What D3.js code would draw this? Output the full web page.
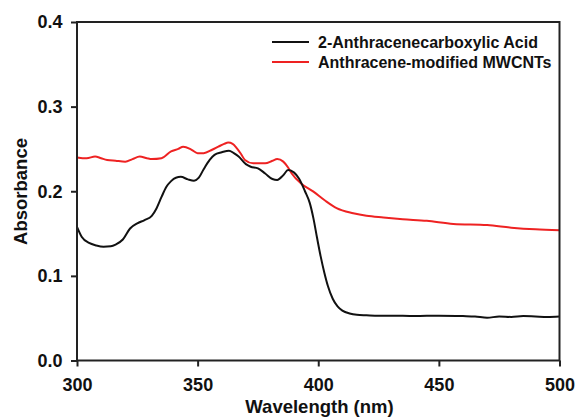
<!DOCTYPE html>
<html><head><meta charset="utf-8">
<script src="https://cdn.jsdelivr.net/npm/d3@7"></script>
<style>body{margin:0;background:#fff}svg{display:block}text{font-family:"Liberation Sans",Arial,sans-serif;font-weight:bold;fill:#111}</style>
</head><body><svg id="c" width="578" height="419"></svg>
<script>
const acidWl =  [300,302,305,308,311,314,316,319,322,325,328,331,333,335,337,339,341,343,346,348.5,350.5,352.5,355,357,360,363,365,367,370,372,375,378,381,383,385.5,387.5,390,392,394.5,396.5,398,399.5,401,402.5,404,406,408,410,413,416,420,425,430,440,450,460,465,470,475,480,485,490,495,500];
const acidAbs = [0.158,0.146,0.139,0.136,0.1345,0.135,0.137,0.143,0.156,0.162,0.166,0.171,0.18,0.193,0.205,0.212,0.216,0.217,0.214,0.2125,0.216,0.226,0.237,0.243,0.246,0.248,0.245,0.241,0.232,0.229,0.227,0.221,0.2145,0.2134,0.219,0.225,0.222,0.215,0.2,0.186,0.168,0.145,0.123,0.104,0.088,0.073,0.064,0.059,0.0555,0.054,0.0535,0.053,0.053,0.0525,0.053,0.0525,0.052,0.0505,0.052,0.0515,0.0525,0.052,0.0515,0.052];
const mwWl =  [300,304,307.5,310,312.5,316,320,323,326,329,331,335,339,342,344,347.5,350,352.5,356,358.6,361,362.7,364.5,366.2,368,369.6,373,378,381,383,385.5,387.5,389,393,398,402.8,407.6,414.5,420,427,435,445,456,470,480,490,500];
const mwAbs = [0.24,0.239,0.241,0.239,0.237,0.236,0.235,0.238,0.241,0.239,0.238,0.239,0.247,0.25,0.2527,0.249,0.245,0.245,0.249,0.2527,0.256,0.2575,0.256,0.251,0.244,0.237,0.233,0.233,0.236,0.238,0.235,0.228,0.221,0.209,0.1995,0.189,0.18,0.174,0.171,0.169,0.167,0.165,0.1613,0.16,0.157,0.155,0.154];
const xTicks = [300,350,400,450,500];
const yTicks = [0.0,0.1,0.2,0.3,0.4];
const seriesNames = ["2-Anthracenecarboxylic Acid","Anthracene-modified MWCNTs"];
const seriesColors = ["#111111","#ee2222"];

const svg = d3.select("#c");
const L=77,R=559.5,T=22,B=360.5;
const x = d3.scaleLinear().domain([300,500]).range([L,R]);
const y = d3.scaleLinear().domain([0,0.4]).range([B,T]);

const line = d3.line().x(d=>x(d[0])).y(d=>y(d[1])).curve(d3.curveMonotoneX);
const series = [d3.zip(acidWl,acidAbs), d3.zip(mwWl,mwAbs)];
svg.append("path").datum(series[1]).attr("d",line).attr("fill","none").attr("stroke",seriesColors[1]).attr("stroke-width",2);
svg.append("path").datum(series[0]).attr("d",line).attr("fill","none").attr("stroke",seriesColors[0]).attr("stroke-width",2);

svg.append("rect").attr("x",L).attr("y",T).attr("width",R-L).attr("height",B-T).attr("fill","none").attr("stroke","#222").attr("stroke-width",2);

const xa = svg.append("g").attr("transform",`translate(0,${B})`).call(d3.axisBottom(x).tickValues(xTicks).tickSize(6).tickPadding(12).tickFormat(d3.format("d")));
const ya = svg.append("g").attr("transform",`translate(${L},0)`).call(d3.axisLeft(y).tickValues(yTicks).tickSize(6).tickPadding(8.5).tickFormat(d3.format(".1f")));
[xa,ya].forEach(a=>{a.select(".domain").remove();a.selectAll("line").attr("stroke","#222").attr("stroke-width",2);a.selectAll("text").attr("font-size",18).attr("font-family","Liberation Sans, Arial, sans-serif").attr("font-weight","bold").attr("fill","#111");});

svg.append("text").attr("x",319.5).attr("y",412.5).attr("text-anchor","middle").attr("font-size",18.5).text("Wavelength (nm)");
svg.append("text").attr("transform",`translate(26.5,191.5) rotate(-90)`).attr("text-anchor","middle").attr("font-size",18.5).text("Absorbance");

const lg = svg.append("g");
seriesNames.forEach((n,i)=>{
  const ly = 42 + i*20;
  lg.append("line").attr("x1",272).attr("x2",309).attr("y1",ly).attr("y2",ly).attr("stroke",seriesColors[i]).attr("stroke-width",2);
  lg.append("text").attr("x",318).attr("y",ly+6).attr("font-size",16).text(n);
});
</script></body></html>
